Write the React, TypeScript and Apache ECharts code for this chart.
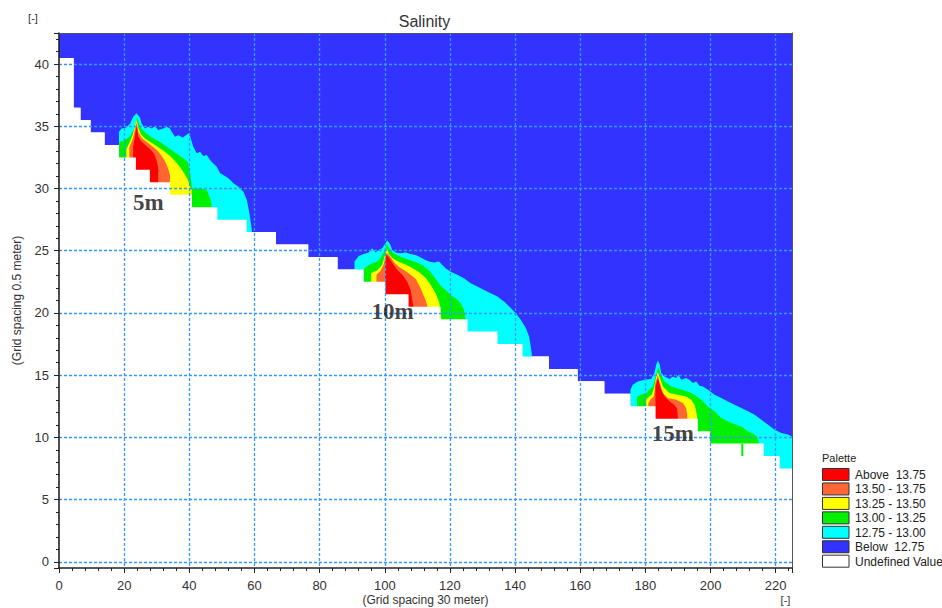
import React, { useEffect, useRef } from "react";
import * as echarts from "echarts";

// ---- axis ranges / ticks ----
const X_MIN = 0;
const X_MAX = 225;
const Y_MIN = -0.5;
const Y_MAX = 42.5;

// ---- bathymetry (top of the undefined / dry cells), step profile ----
const bedX = [0, 4.5, 6.6, 9.7, 14, 18.4, 23.6, 27.9, 34.1, 40.8, 48.6, 57.6, 66.6, 76.5, 85.5, 93.5, 100.2, 107.3, 117.1, 125.4, 134.6, 142.3, 150.4, 159.2, 167.4, 175.4, 183.1, 196.1, 199.9, 216.3, 221.2, 225];
const bedTop = [40.5, 36.5, 35.5, 34.5, 33.5, 32.5, 31.5, 30.5, 29.5, 28.5, 27.5, 26.5, 25.5, 24.5, 23.5, 22.5, 21.5, 20.5, 19.5, 18.5, 17.5, 16.5, 15.5, 14.5, 13.5, 12.5, 11.5, 10.5, 9.5, 8.5, 7.5, 7.5];

// ---- plume at 5 m : upper outlines of each salinity class ----
const cyan5 = [[18.4, 33.0], [18.4, 34.56], [19.2, 34.83], [20.5, 34.88], [21.75, 35.18], [22.77, 35.76], [23.82, 36.04], [24.83, 35.71], [25.35, 35.23], [26.37, 34.83], [27.38, 34.96], [28.43, 34.83], [29.45, 35.02], [30.46, 34.7], [32.0, 34.83], [33.05, 34.96], [34.06, 34.83], [34.58, 34.56], [35.6, 34.16], [36.62, 34.29], [37.97, 34.11], [38.98, 34.29], [40.0, 34.48], [40.43, 34.03], [41.23, 33.35], [42.28, 32.83], [43.29, 32.95], [44.31, 32.61], [45.35, 32.69], [46.37, 32.29], [47.38, 32.02], [48.43, 31.75], [49.45, 31.22], [50.46, 31.08], [52.0, 30.82], [53.54, 30.42], [55.08, 30.14], [56.62, 29.74], [57.66, 29.08], [58.46, 28.01], [59.2, 26.67], [59.2, 26.0]];
const green5 = [[18.46, 32.0], [18.46, 33.73], [20.22, 33.89], [21.75, 34.17], [22.98, 34.78], [23.6, 35.34], [24.0, 35.7], [24.52, 35.26], [25.29, 34.78], [26.68, 34.46], [27.91, 34.21], [29.45, 33.97], [30.98, 33.73], [32.52, 33.45], [34.06, 33.17], [35.6, 32.89], [37.14, 32.61], [38.68, 32.33], [39.6, 32.13], [40.22, 31.32], [40.74, 30.2], [41.23, 29.96], [43.29, 30.02], [45.35, 29.88], [46.58, 29.08], [46.89, 28.54], [46.89, 28.0]];
const yellow5 = [[20.68, 32.0], [20.68, 33.17], [21.6, 33.65], [22.68, 34.37], [23.45, 35.18], [23.82, 35.54], [24.37, 34.86], [25.14, 34.37], [26.68, 33.97], [28.52, 33.65], [30.37, 33.33], [32.22, 33.01], [34.06, 32.61], [35.6, 32.21], [37.14, 31.73], [38.37, 31.24], [39.45, 30.76], [40.22, 30.2], [40.74, 29.88], [40.74, 29.0]];
const orange5 = [[21.6, 32.0], [21.6, 33.33], [22.52, 33.89], [23.29, 34.7], [23.82, 35.3], [24.37, 34.54], [25.45, 34.05], [26.98, 33.73], [28.52, 33.41], [30.06, 33.09], [31.29, 32.69], [32.52, 32.21], [33.45, 31.65], [34.06, 31.08], [34.06, 30.0]];
const red5 = [[22.77, 32.0], [22.77, 33.41], [23.29, 34.13], [23.82, 35.1], [24.31, 34.21], [25.14, 33.81], [26.37, 33.53], [27.91, 33.17], [29.14, 32.81], [29.91, 32.29], [30.46, 31.65], [30.46, 30.2]];

// ---- plume at 10 m ----
const cyan10 = [[90.7, 23.0], [90.7, 24.13], [92.0, 24.58], [93.54, 24.74], [95.08, 24.85], [96.12, 25.2], [97.14, 24.85], [98.15, 25.06], [99.2, 25.2], [100.22, 25.63], [100.74, 25.83], [101.29, 25.67], [101.75, 25.47], [102.28, 25.06], [103.29, 24.85], [104.83, 24.8], [106.37, 24.85], [107.91, 24.74], [109.45, 24.66], [110.46, 24.53], [112.0, 24.32], [113.54, 24.13], [115.08, 24.05], [116.62, 24.13], [117.66, 23.86], [118.68, 23.6], [120.22, 23.32], [122.28, 23.06], [124.31, 22.79], [126.37, 22.39], [128.43, 22.12], [130.46, 21.85], [132.52, 21.59], [134.58, 21.32], [136.62, 20.92], [138.68, 20.39], [140.22, 19.98], [141.75, 19.45], [143.29, 18.78], [144.31, 18.11], [144.83, 17.3], [145.14, 16.64], [145.14, 16.2]];
const green10 = [[93.5, 22.0], [93.5, 23.52], [94.58, 23.78], [96.12, 24.0], [97.66, 24.13], [98.68, 24.4], [99.51, 24.8], [100.22, 25.18], [100.62, 25.51], [101.14, 25.31], [102.28, 24.9], [103.82, 24.62], [105.85, 24.42], [107.91, 24.22], [109.45, 24.1], [110.98, 23.94], [112.52, 23.66], [114.06, 23.3], [115.6, 22.74], [117.14, 22.18], [118.68, 21.85], [120.22, 21.45], [121.75, 21.19], [123.29, 20.79], [124.31, 20.25], [124.83, 19.5], [124.83, 19.0]];
const yellow10 = [[95.82, 22.0], [95.82, 23.22], [97.66, 23.42], [99.2, 23.86], [100.0, 24.58], [100.62, 25.22], [101.23, 24.74], [102.28, 24.42], [103.82, 24.18], [104.83, 24.06], [106.37, 23.9], [107.91, 23.7], [110.46, 23.3], [112.52, 22.82], [114.06, 22.26], [115.6, 21.59], [116.62, 20.92], [117.14, 20.25], [117.35, 19.5], [117.35, 19.0]];
const orange10 = [[97.45, 22.0], [97.45, 23.06], [98.68, 23.38], [99.69, 23.94], [100.46, 24.82], [100.98, 24.74], [101.75, 24.5], [103.29, 23.94], [104.83, 23.62], [106.37, 23.38], [107.91, 23.06], [109.45, 22.74], [110.46, 22.26], [111.51, 21.69], [112.52, 21.05], [113.05, 20.57], [113.05, 20.0]];
const red10 = [[100.12, 21.0], [100.12, 23.86], [100.37, 24.5], [100.52, 24.66], [100.92, 24.58], [101.75, 24.26], [103.82, 23.46], [105.35, 23.06], [106.89, 22.5], [107.91, 21.85], [108.43, 21.05], [108.74, 20.57], [108.74, 20.0]];

// ---- plume at 15 m ----
const cyan15 = [[175.4, 12.0], [175.4, 13.83], [176.12, 14.23], [177.66, 14.49], [179.69, 14.63], [181.75, 14.69], [182.77, 15.17], [183.29, 15.83], [183.82, 16.18], [184.43, 15.83], [184.83, 15.17], [185.85, 14.9], [187.38, 14.69], [188.43, 14.9], [189.45, 14.77], [190.15, 15.03], [190.98, 14.63], [192.52, 14.77], [193.54, 14.63], [194.58, 14.37], [195.6, 14.49], [196.62, 14.15], [197.66, 14.09], [199.2, 13.83], [201.23, 13.43], [203.29, 13.16], [205.35, 12.89], [207.38, 12.62], [209.45, 12.36], [211.51, 12.09], [213.54, 11.82], [215.6, 11.42], [217.66, 11.02], [219.69, 10.62], [221.75, 10.35], [223.82, 10.22], [225, 10.05]];
const green15 = [[177.45, 12.0], [177.45, 13.29], [178.68, 13.43], [180.22, 13.56], [181.23, 13.83], [182.28, 14.09], [182.98, 14.77], [183.6, 15.3], [183.95, 15.65], [184.83, 15.03], [185.85, 14.49], [187.91, 14.09], [190.46, 13.88], [193.05, 13.69], [195.08, 13.43], [197.14, 13.03], [199.2, 12.49], [201.23, 12.09], [203.29, 11.56], [206.37, 11.16], [209.45, 10.88], [211.51, 10.48], [213.54, 10.22], [214.58, 9.95], [214.77, 9.55], [214.77, 9.0]];
const yellow15 = [[180.22, 12.0], [180.22, 13.03], [180.92, 13.24], [181.97, 13.43], [182.77, 14.09], [183.29, 14.9], [183.82, 15.25], [184.31, 14.9], [185.35, 14.09], [187.38, 13.56], [189.97, 13.43], [192.52, 13.29], [194.06, 13.03], [195.08, 12.62], [195.6, 12.09], [195.9, 11.56], [195.9, 11.0]];
const orange15 = [[180.92, 12.0], [180.92, 12.76], [181.54, 13.03], [182.58, 13.29], [183.08, 14.37], [183.82, 15.0], [184.43, 14.37], [185.35, 13.56], [186.89, 13.16], [189.45, 13.03], [191.51, 12.76], [192.52, 12.36], [192.83, 11.82], [192.83, 11.0]];
const red15 = [[183.1, 11.0], [183.1, 14.09], [183.82, 14.75], [184.31, 14.3], [184.83, 13.83], [185.85, 13.29], [187.38, 12.9], [188.92, 12.6], [189.75, 12.3], [189.97, 11.56], [189.97, 11.0]];
const greenSpike = [[209.75, 9.5], [209.75, 8.5]];

// ---- palette ----
const paletteLabels = ["Above  13.75", "13.50 - 13.75", "13.25 - 13.50", "13.00 - 13.25", "12.75 - 13.00", "Below  12.75", "Undefined Value"];
const paletteColors = ["#ff0000", "#ff6633", "#ffff00", "#00f000", "#00ffff", "#3333ff", "#ffffff"];

// ---- annotations ----
const annoLabels = ["5m", "10m", "15m"];
const annoX = [27.45, 102.4, 188.4];
const annoY = [28.86, 20.1, 10.3];

const SANS = '"Liberation Sans", Arial, sans-serif';

export default function App() {
  const ref = useRef<HTMLDivElement>(null);

  useEffect(() => {
    const chart = echarts.init(ref.current as HTMLDivElement, null, { renderer: "svg" });

    const bed = bedX.map((x, i) => [x, bedTop[i]]);
    const bands = [
      { color: paletteColors[4], plumes: [cyan5, cyan10, cyan15] },
      { color: paletteColors[3], plumes: [green5, green10, green15] },
      { color: paletteColors[2], plumes: [yellow5, yellow10, yellow15] },
      { color: paletteColors[1], plumes: [orange5, orange10, orange15] },
      { color: paletteColors[0], plumes: [red5, red10, red15] },
    ];

    const areaSeries = (data: number[][], color: string, origin: string, step?: string) => ({
      type: "line",
      data,
      step: step || false,
      symbol: "none",
      showSymbol: false,
      silent: true,
      lineStyle: { width: 0, opacity: 0 },
      areaStyle: { color, opacity: 1, origin },
      z: 2,
    });

    const series: any[] = [];
    // water above the bed (below 12.75)
    series.push(areaSeries(bed, paletteColors[5], "end", "end"));
    // salinity classes
    bands.forEach((b) => b.plumes.forEach((p) => series.push(areaSeries(p, b.color, "start"))));
    // undefined cells (bed)
    series.push(areaSeries(bed, "#ffffff", "start", "end"));
    // thin green spike
    series.push({
      type: "line",
      data: greenSpike,
      symbol: "none",
      silent: true,
      lineStyle: { color: paletteColors[3], width: 2 },
      z: 3,
    });
    // labels
    series.push({
      type: "scatter",
      data: annoLabels.map((t, i) => [annoX[i], annoY[i], t]),
      symbolSize: 1,
      itemStyle: { color: "rgba(0,0,0,0)" },
      silent: true,
      z: 20,
      label: {
        show: true,
        position: "inside",
        formatter: (p: any) => p.data[2],
        fontFamily: '"Liberation Serif", "Times New Roman", serif',
        fontWeight: "bold",
        fontSize: 23,
        color: "#111",
      },
    });

    const gridLine = { color: "#3399ff", width: 1.3, type: [3, 2] };
    const axisText = { fontSize: 13, color: "#333", fontFamily: SANS };

    const graphic: any[] = [
      { type: "text", x: 424.5, y: 21, style: { text: "Salinity", fill: "#333", fontSize: 16, fontFamily: SANS, align: "center", verticalAlign: "middle", textAlign: "center", textVerticalAlign: "middle" } },
      { type: "text", x: 33, y: 18, style: { text: "[-]", fill: "#333", fontSize: 11, fontFamily: SANS, align: "center", verticalAlign: "middle", textAlign: "center", textVerticalAlign: "middle" } },
      { type: "text", x: 785.5, y: 600, style: { text: "[-]", fill: "#333", fontSize: 11, fontFamily: SANS, align: "center", verticalAlign: "middle", textAlign: "center", textVerticalAlign: "middle" } },
      { type: "text", x: 822, y: 457.5, style: { text: "Palette", fill: "#222", fontSize: 11, fontFamily: SANS, align: "left", verticalAlign: "middle", textAlign: "left", textVerticalAlign: "middle" } },
    ];
    paletteLabels.forEach((lab, i) => {
      const top = 468.5 + i * 14.45;
      graphic.push({
        type: "rect",
        shape: { x: 822.5, y: top, width: 26.5, height: 12 },
        style: { fill: paletteColors[i], stroke: "#333", lineWidth: 1 },
      });
      graphic.push({
        type: "text",
        x: 855,
        y: top + 6.5,
        style: { text: lab, fill: "#222", fontSize: 12, fontFamily: SANS, align: "left", verticalAlign: "middle", textAlign: "left", textVerticalAlign: "middle" },
      });
    });

    chart.setOption({
      animation: false,
      backgroundColor: "#ffffff",
      grid: { left: 59, top: 33, width: 733, height: 535, containLabel: false, outerBoundsMode: "none", show: false },
      xAxis: [
        {
          type: "value",
          min: X_MIN,
          max: X_MAX,
          splitNumber: 11,
          position: "bottom",
          z: 10,
          axisLine: { show: true, onZero: false, lineStyle: { color: "#222", width: 1.6 } },
          axisTick: { show: true, length: 5, lineStyle: { color: "#222", width: 1 } },
          minorTick: { show: true, splitNumber: 5, length: 3, lineStyle: { color: "#222", width: 1 } },
          axisLabel: { ...axisText, margin: 11, showMaxLabel: false },
          splitLine: { show: true, showMinLine: false, showMaxLine: false, lineStyle: gridLine },
          name: "(Grid spacing 30 meter)",
          nameLocation: "middle",
          nameGap: 25,
          nameMoveOverlap: false,
          nameTextStyle: { fontSize: 12, lineHeight: 13, color: "#333", fontFamily: SANS },
        },
        {
          type: "value",
          min: X_MIN,
          max: X_MAX,
          position: "top",
          z: 10,
          axisLine: { show: true, onZero: false, lineStyle: { color: "#555", width: 1 } },
          axisTick: { show: false },
          axisLabel: { show: false },
          splitLine: { show: false },
        },
      ],
      yAxis: [
        {
          type: "value",
          min: Y_MIN,
          max: Y_MAX,
          splitNumber: 8,
          position: "left",
          z: 10,
          axisLine: { show: true, onZero: false, lineStyle: { color: "#222", width: 1.6 } },
          axisTick: { show: true, length: 5, lineStyle: { color: "#222", width: 1 } },
          minorTick: { show: true, splitNumber: 5, length: 3, lineStyle: { color: "#222", width: 1 } },
          axisLabel: { ...axisText, margin: 10, showMinLabel: false, showMaxLabel: false },
          splitLine: { show: true, showMinLine: false, showMaxLine: false, lineStyle: gridLine },
          name: "(Grid spacing 0.5 meter)",
          nameLocation: "middle",
          nameRotate: 90,
          nameGap: 36,
          nameMoveOverlap: false,
          nameTextStyle: { fontSize: 12, color: "#333", fontFamily: SANS },
        },
        {
          type: "value",
          min: Y_MIN,
          max: Y_MAX,
          position: "right",
          z: 10,
          axisLine: { show: true, onZero: false, lineStyle: { color: "#555", width: 1 } },
          axisTick: { show: false },
          axisLabel: { show: false },
          splitLine: { show: false },
        },
      ],
      graphic,
      series,
    });

    return () => chart.dispose();
  }, []);

  return (
    <div
      ref={ref}
      style={{ position: "absolute", left: 0, top: 0, width: 942, height: 608, background: "#fff" }}
    />
  );
}
